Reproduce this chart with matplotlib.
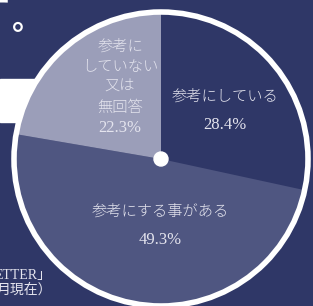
import matplotlib
matplotlib.use("Agg")
import matplotlib.pyplot as plt
from matplotlib.patches import Rectangle, Circle

# data
labels = ["参考にしている", "参考にする事がある", "参考に\nしていない\n又は\n無回答"]
shares = [28.4, 49.3, 22.3]
colors = ["#2f3767", "#4f5681", "#9b9eb9"]

BG = "#2f3767"
TXT = "#e4e4ee"
FONT = ["Liberation Serif", "Noto Sans CJK JP"]

W, H = 313, 306
fig = plt.figure(figsize=(W / 100, H / 100), dpi=100)
fig.patch.set_facecolor(BG)
ax = fig.add_axes([0, 0, 1, 1])
ax.set_facecolor(BG)

cx, cy, r = 161, H - 159, 145

# white band behind the pie (left side)
ax.add_patch(Rectangle((0, H - 122), 60, 43, color="white", zorder=0))

ax.pie(shares, colors=colors, startangle=90, counterclock=False,
       center=(cx, cy), radius=r, wedgeprops=dict(linewidth=0))
ax.add_patch(Circle((cx, cy), r + 2, fill=False, ec="white", lw=4, zorder=3))
ax.add_patch(Circle((cx, cy), 7, color="white", zorder=4))

kw = dict(color=TXT, family=FONT, ha="center", va="center", weight="light")
# slice labels
ax.text(225, H - 97, labels[0], fontsize=11, **kw)
ax.text(225, H - 125, f"{shares[0]}%", fontsize=12, **kw)
ax.text(160, H - 212, labels[1], fontsize=11, **kw)
ax.text(160, H - 240, f"{shares[1]}%", fontsize=12, **kw)
for i, line in enumerate(labels[2].split("\n")):
    ax.text(120, H - 47 - 20.3 * i, line, fontsize=11, **kw)
ax.text(120, H - 128, f"{shares[2]}%", fontsize=12, **kw)

# cut-off title / source text at the edges
ax.text(10, H - 4, "ー", color="white", fontsize=22, family=FONT, ha="right", va="center", weight="bold")
ax.text(27, H - 21, "。", color="white", fontsize=22, family=FONT, ha="center", va="center", weight="bold")
ax.text(52, H - 275, "ETTER」", color=TXT, fontsize=10, family=FONT, ha="right", va="center")
ax.text(52, H - 290, "月現在）", color=TXT, fontsize=10, family=FONT, ha="right", va="center")

ax.set_xlim(0, W)
ax.set_ylim(0, H)
ax.set_aspect("auto")
ax.axis("off")
fig.savefig("out.png", dpi=100, facecolor=BG)
